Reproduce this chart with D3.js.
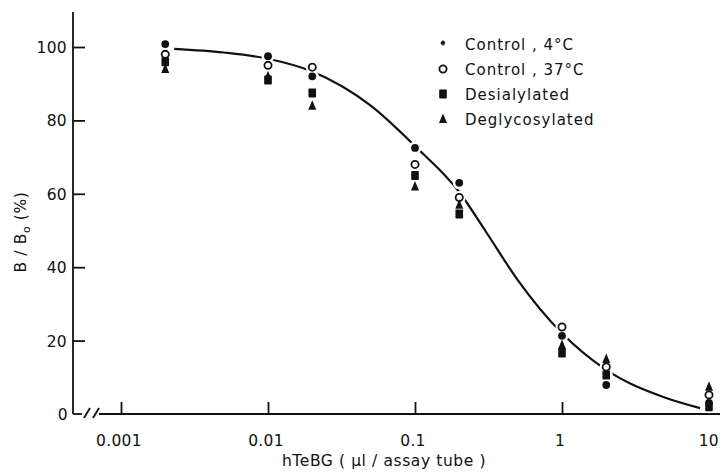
<!DOCTYPE html>
<html><head><meta charset="utf-8">
<script src="https://cdn.jsdelivr.net/npm/d3@7"></script>
<style>body{margin:0;background:#fff}svg{display:block}text{font-family:"DejaVu Sans",sans-serif;fill:#111}</style>
</head><body><svg id="c" width="720" height="472"></svg>
<script>
const doses = [0.002, 0.01, 0.02, 0.1, 0.2, 1, 2, 10];
const control4 = [100.8, 97.5, 92, 72.5, 63, 21.3, 7.9, 3];
const control37 = [98, 95, 94.5, 68, 59, 23.7, 12.8, 5.2];
const desialylated = [96, 91, 87.5, 65, 54.5, 16.6, 10.6, 2];
const deglycosylated = [94, 92, 84, 62, 57, 18.8, 15, 7.4];
const curveX = [0.0023, 0.005, 0.01, 0.02, 0.05, 0.1, 0.2, 0.3, 0.5, 1, 2, 5, 8.7];
const curveY = [99.5, 98.5, 96.8, 93.3, 84, 73, 60.5, 50, 36.5, 22, 12, 4.5, 1.6];
const yTicks = [0, 20, 40, 60, 80, 100];
const xTicks = [0.001, 0.01, 0.1, 1, 10];
const xTickLabels = ["0.001", "0.01", "0.1", "1", "10"];
const legendLabels = ["Control , 4°C", "Control , 37°C", "Desialylated", "Deglycosylated"];

const svg = d3.select("#c");
const x = d3.scaleLog().domain([0.001, 10]).range([121, 709]);
const y = d3.scaleLinear().domain([0, 100]).range([414, 47]);
const ink = "#111";

// y axis
svg.append("line").attr("x1",73).attr("x2",73).attr("y1",12).attr("y2",y(0)).attr("stroke",ink).attr("stroke-width",1.8);
svg.append("line").attr("x1",73).attr("x2",82).attr("y1",y(0)).attr("y2",y(0)).attr("stroke",ink).attr("stroke-width",1.8);
const ya = svg.append("g").attr("transform","translate(73,0)")
  .call(d3.axisRight(y).tickValues(yTicks.filter(d=>d>0)).tickSize(12).tickFormat(""));
ya.select(".domain").remove();
ya.selectAll("line").attr("stroke",ink).attr("stroke-width",1.8);
svg.selectAll(".ylab").data(yTicks).join("text").attr("class","ylab")
  .attr("x",d=>d===0?68:67).attr("y",d=>y(d)+6).attr("text-anchor","end")
  .style("font-size","15.5px").style("letter-spacing","0.3px").text(d=>d);

// break marks
[[84,92],[93,101]].forEach(([a,b])=>{
  svg.append("line").attr("x1",a).attr("y1",y(0)+4).attr("x2",b-2).attr("y2",y(0)-6).attr("stroke",ink).attr("stroke-width",1.8);
});
// x axis
svg.append("line").attr("x1",99).attr("x2",720).attr("y1",y(0)).attr("y2",y(0)).attr("stroke",ink).attr("stroke-width",1.8);
const xa = svg.append("g").attr("transform",`translate(0,${y(0)})`)
  .call(d3.axisTop(x).tickValues(xTicks).tickSize(12).tickFormat(""));
xa.select(".domain").remove();
xa.selectAll("line").attr("stroke",ink).attr("stroke-width",1.8);
svg.selectAll(".xlab").data(xTicks).join("text").attr("class","xlab")
  .attr("x",(d,i)=>i===4?719:x(d)-2).attr("y",446).attr("text-anchor",(d,i)=>i===4?"end":"middle")
  .style("font-size","15.5px").style("letter-spacing","0.3px").text((d,i)=>xTickLabels[i]);

// titles
svg.append("text").attr("x",384).attr("y",466).attr("text-anchor","middle")
  .style("font-size","15.5px").style("letter-spacing","0.6px").text("hTeBG ( μl / assay  tube )");
const yt = svg.append("text").attr("transform","translate(26,232) rotate(-90)").attr("text-anchor","middle")
  .style("font-size","15.5px").style("letter-spacing","0.6px");
yt.append("tspan").text("B / B");
yt.append("tspan").attr("dy",4).style("font-size","11px").text("o");
yt.append("tspan").attr("dy",-4).text(" (%)");

// curve
const line = d3.line().x(d=>x(d[0])).y(d=>y(d[1])).curve(d3.curveMonotoneX);
svg.append("path").datum(curveX.map((v,i)=>[v,curveY[i]])).attr("d",line)
  .attr("fill","none").attr("stroke",ink).attr("stroke-width",2.2);

// markers
function marker(g, type, cx, cy){
  if(type===0){ g.append("circle").attr("cx",cx).attr("cy",cy).attr("r",3.9).attr("fill",ink); }
  if(type===1){ g.append("circle").attr("cx",cx).attr("cy",cy).attr("r",3.6).attr("fill","#fff").attr("stroke",ink).attr("stroke-width",1.8); }
  if(type===2){ g.append("rect").attr("x",cx-3.8).attr("y",cy-4.5).attr("width",7.6).attr("height",9).attr("rx",0.8).attr("fill",ink); }
  if(type===3){ g.append("path").attr("d",`M${cx},${cy-5.5}L${cx+4},${cy+4}L${cx-4},${cy+4}Z`).attr("fill",ink); }
}
const series = [control4, control37, desialylated, deglycosylated];
const mg = svg.append("g");
series.forEach((s,k)=>s.forEach((v,i)=>{
  mg.append("circle").attr("cx",x(doses[i])).attr("cy",y(v)).attr("r",6.5).attr("fill","#fff");
}));
[1,2,3,0].forEach(k=>series[k].forEach((v,i)=>marker(mg,k,x(doses[i]),y(v))));

// legend
const lg = svg.append("g");
legendLabels.forEach((t,i)=>{
  const ly = 50 + i*25;
  if(i===0){
    lg.append("path").attr("d",d3.symbol(d3.symbolAsterisk,16)()).attr("transform",`translate(443,${ly-7})`)
      .attr("stroke",ink).attr("stroke-width",1.5).attr("fill","none");
  } else marker(lg,i,443,ly-6);
  lg.append("text").attr("x",465).attr("y",ly).style("font-size","15px").style("letter-spacing","1px").text(t);
});
</script></body></html>
